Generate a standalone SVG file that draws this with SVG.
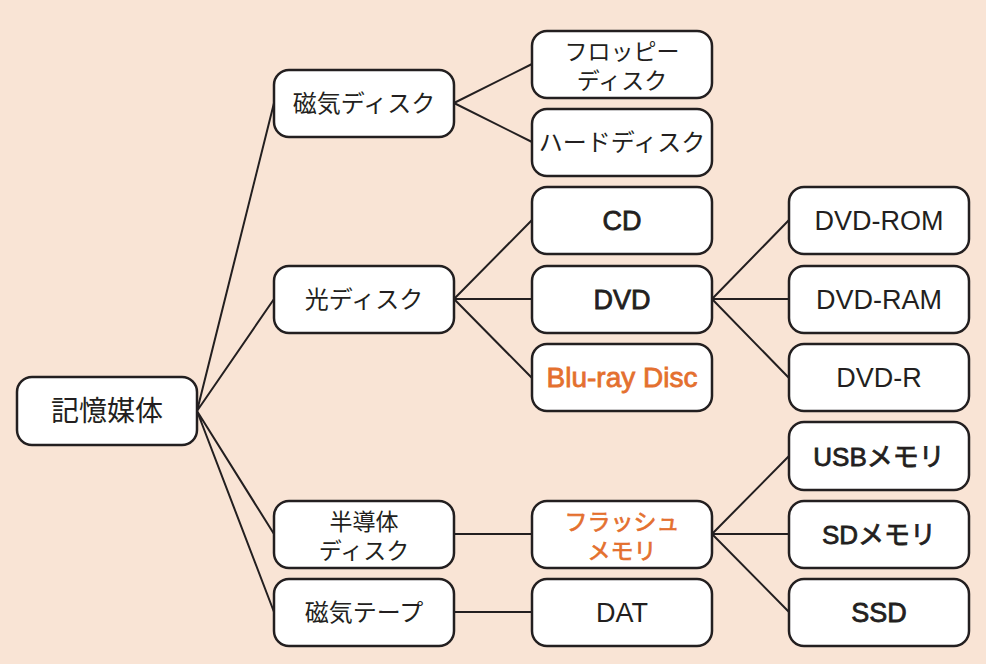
<svg xmlns="http://www.w3.org/2000/svg" width="986" height="664" viewBox="0 0 986 664">
<style>
.bg{fill:#F9E4D5}
.box{fill:#FFFFFF;stroke:#231F20;stroke-width:2.5}
.ln{stroke:#231F20;stroke-width:2;fill:none}
text{font-family:"Liberation Sans","Noto Sans CJK JP",sans-serif;text-anchor:middle;fill:#231F20}
.jp{font-family:"Noto Sans CJK JP",sans-serif;font-size:24px}
.jp2{font-family:"Noto Sans CJK JP",sans-serif;font-size:23px}
.root{font-family:"Noto Sans CJK JP",sans-serif;font-size:28px}
.en{font-size:27px}
.m{font-size:27px;stroke:#231F20;stroke-width:0.8}
.mj{stroke:#E4702F;stroke-width:0.7}
.or{fill:#E4702F;stroke:#E4702F}
</style>
<rect class="bg" x="0" y="0" width="986" height="664"/>
<g id="connectors">
<path class="ln" d="M197,411 L274,103 M197,411 L274,299 M197,411 L274,534 M197,411 L274,612"/>
<path class="ln" d="M454,103 L532,64 M454,103 L532,142"/>
<path class="ln" d="M454,299 L532,220 M454,299 L532,299 M454,299 L532,378"/>
<path class="ln" d="M454,534 L532,534 M454,612 L532,612"/>
<path class="ln" d="M712,299 L789,220 M712,299 L789,299 M712,299 L789,378"/>
<path class="ln" d="M712,534 L789,456 M712,534 L789,534 M712,534 L789,612"/>
</g>
<g id="n-root"><rect class="box" x="17" y="377" width="180" height="68" rx="15"/><text class="root" x="107" y="421">記憶媒体</text></g>
<g id="n-magdisk"><rect class="box" x="274" y="70" width="180" height="67" rx="15"/><text class="jp" x="364" y="112">磁気ディスク</text></g>
<g id="n-optdisk"><rect class="box" x="274" y="266" width="180" height="67" rx="15"/><text class="jp" x="364" y="308">光ディスク</text></g>
<g id="n-semidisk"><rect class="box" x="274" y="501" width="180" height="67" rx="15"/><text class="jp2" x="364" y="530">半導体</text><text class="jp2" x="364" y="559">ディスク</text></g>
<g id="n-magtape"><rect class="box" x="274" y="579" width="180" height="67" rx="15"/><text class="jp" x="364" y="621">磁気テープ</text></g>
<g id="n-floppy"><rect class="box" x="532" y="31" width="180" height="67" rx="15"/><text class="jp2" x="622" y="60">フロッピー</text><text class="jp2" x="622" y="89">ディスク</text></g>
<g id="n-hdd"><rect class="box" x="532" y="109" width="180" height="67" rx="15"/><text class="jp" x="622" y="151">ハードディスク</text></g>
<g id="n-cd"><rect class="box" x="532" y="187" width="180" height="67" rx="15"/><text class="m" x="622" y="230">CD</text></g>
<g id="n-dvd"><rect class="box" x="532" y="266" width="180" height="67" rx="15"/><text class="m" x="622" y="309">DVD</text></g>
<g id="n-bluray"><rect class="box" x="532" y="344" width="180" height="67" rx="15"/><text class="m or" x="622" y="387" style="font-size:28px">Blu-ray Disc</text></g>
<g id="n-flash"><rect class="box" x="532" y="501" width="180" height="67" rx="15"/><text class="jp2 mj or" x="622" y="530">フラッシュ</text><text class="jp2 mj or" x="622" y="559">メモリ</text></g>
<g id="n-dat"><rect class="box" x="532" y="579" width="180" height="67" rx="15"/><text class="en" x="622" y="622">DAT</text></g>
<g id="n-dvdrom"><rect class="box" x="789" y="187" width="180" height="67" rx="15"/><text class="en" x="879" y="230">DVD-ROM</text></g>
<g id="n-dvdram"><rect class="box" x="789" y="266" width="180" height="67" rx="15"/><text class="en" x="879" y="309">DVD-RAM</text></g>
<g id="n-dvdr"><rect class="box" x="789" y="344" width="180" height="67" rx="15"/><text class="en" x="879" y="387">DVD-R</text></g>
<g id="n-usb"><rect class="box" x="789" y="422" width="180" height="68" rx="15"/><text class="m" x="879" y="466" style="font-size:26px">USBメモリ</text></g>
<g id="n-sd"><rect class="box" x="789" y="501" width="180" height="67" rx="15"/><text class="m" x="879" y="544" style="font-size:26px">SDメモリ</text></g>
<g id="n-ssd"><rect class="box" x="789" y="579" width="180" height="67" rx="15"/><text class="m" x="879" y="622">SSD</text></g>
</svg>
